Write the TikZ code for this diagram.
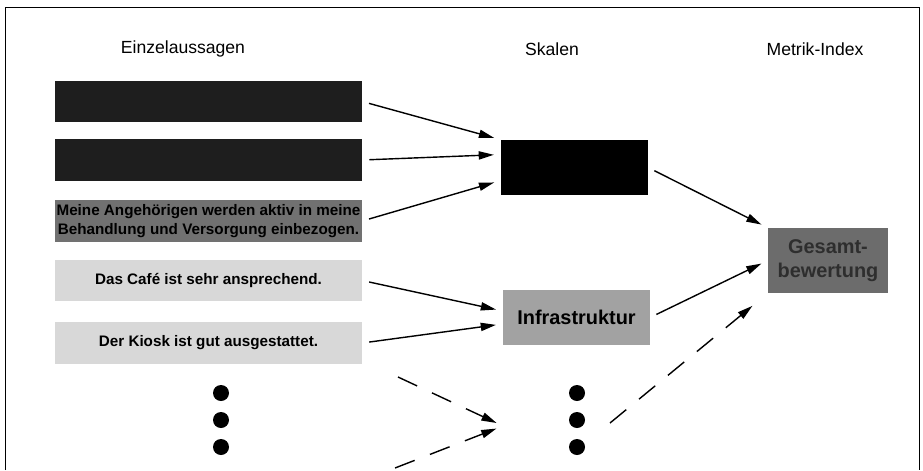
\documentclass[tikz,border=0pt]{standalone}
\usepackage{fontspec}
\setmainfont{Liberation Sans}
\usetikzlibrary{arrows.meta}

\definecolor{stmtdark}{HTML}{1E1E1E}
\definecolor{stmtmid}{HTML}{717171}
\definecolor{stmtlight}{HTML}{D8D8D8}
\definecolor{infragray}{HTML}{A2A2A2}
\definecolor{totalgray}{HTML}{6C6C6C}
\definecolor{totaltext}{HTML}{2E2E2E}

\tikzset{
	head/.style={font=\fontsize{15}{18}\selectfont},
	stmt/.style={minimum width=9.21cm, minimum height=1.24cm, inner sep=0pt, align=center,
		font=\fontsize{13}{16}\selectfont\bfseries},
	scalebox/.style={minimum width=4.4cm, minimum height=1.65cm, inner sep=0pt,
		font=\fontsize{17}{20}\selectfont\bfseries},
	dot/.style={circle, fill=black, inner sep=0pt, minimum size=0.48cm},
	link/.style={line width=1.2pt, -{Triangle[length=13pt,width=7pt]}, shorten <=6pt, shorten >=6pt},
	guess/.style={link, dash pattern=on 18pt off 14pt}
}

\begin{document}
\begin{tikzpicture}[x=0.03cm, y=-0.03cm]
		%%%%% START %%%%%
		\useasboundingbox (0, 0) rectangle (923, 470);
		\draw[line width=0.8pt] (5, 470) -- (5, 7) -- (919, 7) -- (919, 470);
		
		\node[head] (hstmt) at (183, 49) {Einzelaussagen};
		\node[head] (hscale) at (552, 49) {Skalen};
		\node[head] (hindex) at (815, 49) {Metrik-Index};
		
		% single statements
		\node[stmt, fill=stmtdark] (s1) at (208.5, 101.5) {};
		\node[stmt, fill=stmtdark] (s2) at (208.5, 160) {};
		\node[stmt, fill=stmtmid] (s3) at (208.5, 221)
			{Meine Angehörigen werden aktiv in meine\\Behandlung und Versorgung einbezogen.};
		\node[stmt, fill=stmtlight] (s4) at (208.5, 280.5) {Das Café ist sehr ansprechend.};
		\node[stmt, fill=stmtlight] (s5) at (208.5, 343) {Der Kiosk ist gut ausgestattet.};
		
		% scales
		\node[scalebox, fill=black] (k1) at (574.5, 167.5) {};
		\node[scalebox, fill=infragray] (k2) at (576.5, 317.5) {Infrastruktur};
		
		% index
		\node[minimum width=3.6cm, minimum height=1.95cm, inner sep=0pt, align=center,
			fill=totalgray, text=totaltext, font=\fontsize{17}{21}\selectfont\bfseries]
			(g) at (828, 260.5) {Gesamt-\\bewertung};
		
		\foreach \i/\y in {1/393, 2/420, 3/447} {
			\node[dot] (dl\i) at (221, \y) {};
			\node[dot] (dm\i) at (577, \y) {};
		}
		
		\draw[link] (s1.east) -- (k1.north west);
		\draw[link] (s2.east) -- (k1.170);
		\draw[link] (s3.east) -- (k1.190);
		\draw[link] (s4.east) -- (k2.175);
		\draw[link] (s5.east) -- (k2.185);
		\draw[link] (k1.east) -- (g.north west);
		\draw[link] (k2.east) -- (g.west);
		
		% more statements and scales
		\coordinate (in1) at (398, 377);
		\coordinate (in2) at (395, 468);
		\coordinate (meet) at (503, 426);
		\coordinate (out) at (610, 423);
		\draw[guess, shorten <=0pt] (in1) -- (meet);
		\draw[guess, shorten <=0pt] (in2) -- (meet);
		\draw[guess, shorten <=0pt, shorten >=17pt] (out) -- (g.south west);
		
		%%%%% END %%%%%
	\end{tikzpicture}
\end{document}
